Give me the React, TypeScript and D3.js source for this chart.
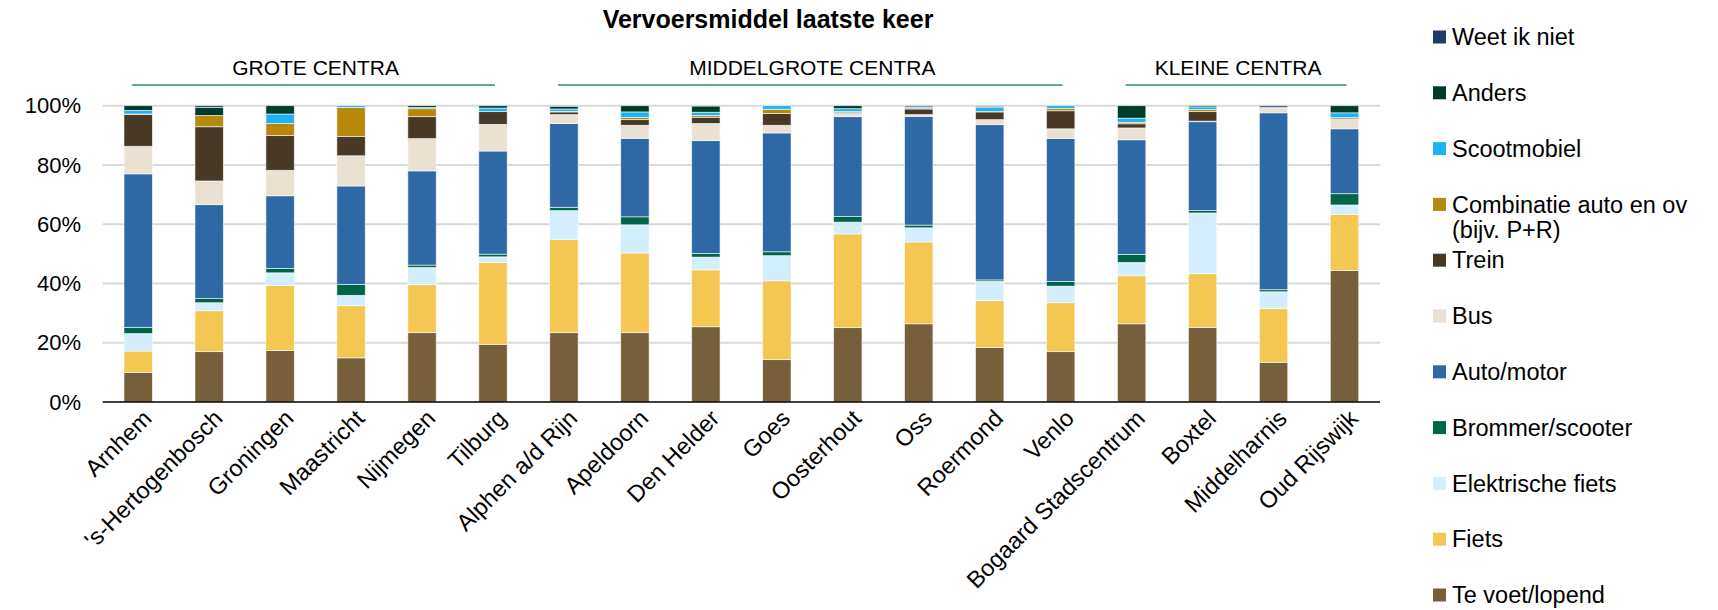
import React from "react";
import * as d3 from "d3";

// Winkelgebieden, gegroepeerd naar omvang
const categories = [
  "Arnhem",
  "'s-Hertogenbosch",
  "Groningen",
  "Maastricht",
  "Nijmegen",
  "Tilburg",
  "Alphen a/d Rijn",
  "Apeldoorn",
  "Den Helder",
  "Goes",
  "Oosterhout",
  "Oss",
  "Roermond",
  "Venlo",
  "Bogaard Stadscentrum",
  "Boxtel",
  "Middelharnis",
  "Oud Rijswijk",
];

const groupNames = ["GROTE CENTRA", "MIDDELGROTE CENTRA", "KLEINE CENTRA"];
const groupFirst = ["Arnhem", "Alphen a/d Rijn", "Bogaard Stadscentrum"];
const groupLast = ["Tilburg", "Venlo", "Oud Rijswijk"];

// Aandeel per vervoersmiddel (%), zelfde volgorde als categories
const teVoet = [10.0, 17.0, 17.4, 14.9, 23.4, 19.4, 23.4, 23.4, 25.4, 14.3, 25.1, 26.4, 18.4, 17.0, 26.4, 25.2, 13.4, 44.4];
const fiets = [7.2, 13.8, 21.9, 17.6, 16.2, 27.7, 31.4, 26.9, 19.2, 26.6, 31.6, 27.6, 15.8, 16.5, 16.2, 18.1, 18.1, 18.9];
const elektrischeFiets = [5.9, 2.7, 4.3, 3.5, 5.8, 1.9, 9.8, 9.5, 4.3, 8.5, 4.0, 4.8, 6.5, 5.6, 4.5, 20.5, 5.7, 3.2];
const brommer = [2.1, 1.4, 1.5, 3.7, 0.8, 0.9, 1.1, 2.7, 1.2, 1.3, 1.9, 0.9, 0.5, 1.6, 2.7, 0.8, 0.7, 3.8];
const auto = [51.8, 31.7, 24.5, 33.2, 31.8, 34.8, 28.3, 26.5, 38.1, 40.1, 33.7, 36.7, 52.4, 48.2, 38.7, 30.0, 59.7, 21.9];
const bus = [9.3, 8.0, 8.6, 10.2, 10.9, 9.0, 3.0, 4.4, 5.8, 2.6, 1.1, 0.6, 1.7, 3.3, 4.0, 0.2, 1.5, 3.4];
const trein = [10.7, 18.3, 11.7, 6.5, 7.4, 4.3, 0.9, 1.9, 2.1, 4.0, 0.4, 1.9, 2.6, 6.1, 1.4, 3.2, 0.1, 0.4];
const combinatie = [0.2, 3.8, 4.1, 9.8, 2.7, 0.0, 0.2, 0.7, 0.6, 1.4, 0.2, 0.1, 0.1, 0.8, 0.5, 0.7, 0.0, 0.0];
const scootmobiel = [1.2, 0.0, 3.2, 0.6, 0.4, 1.2, 0.8, 1.9, 1.1, 1.2, 1.0, 0.4, 1.4, 0.9, 1.4, 0.9, 0.1, 1.6];
const anders = [1.6, 2.7, 2.8, 0.0, 0.6, 0.8, 0.8, 2.1, 2.1, 0.0, 1.0, 0.2, 0.4, 0.0, 4.2, 0.4, 0.2, 2.4];
const weetIkNiet = [0.0, 0.6, 0.0, 0.0, 0.0, 0.0, 0.3, 0.0, 0.1, 0.0, 0.0, 0.4, 0.2, 0.0, 0.0, 0.0, 0.5, 0.0];

// Stapelvolgorde van onder naar boven
const seriesKeys = [
  "Te voet/lopend",
  "Fiets",
  "Elektrische fiets",
  "Brommer/scooter",
  "Auto/motor",
  "Bus",
  "Trein",
  "Combinatie auto en ov (bijv. P+R)",
  "Scootmobiel",
  "Anders",
  "Weet ik niet",
];
const seriesValues = [teVoet, fiets, elektrischeFiets, brommer, auto, bus, trein, combinatie, scootmobiel, anders, weetIkNiet];
const seriesColors = [
  "#785F3B",
  "#F4C752",
  "#D3EEFC",
  "#006548",
  "#2E69A6",
  "#EAE1D3",
  "#473925",
  "#B8880B",
  "#1FB3F3",
  "#003B2A",
  "#1F3D66",
];

const yTicks = [0, 20, 40, 60, 80, 100];

const W = 1718;
const H = 610;
const FONT = "'Liberation Sans', Arial, sans-serif";

export default function App() {
  const x = d3.scaleBand<string>().domain(categories).range([102.7, 1380]).paddingInner(0.6).paddingOuter(0.3);
  const y = d3.scaleLinear().domain([0, 100]).range([402, 105.7]);

  const rows = categories.map((c, i) => {
    const r: Record<string, number | string> = { cat: c };
    seriesKeys.forEach((k, s) => (r[k] = seriesValues[s][i]));
    return r;
  });
  const stacked = d3.stack<any>().keys(seriesKeys)(rows as any);

  const [x0, x1] = x.range();
  const bw = x.bandwidth();

  // Legenda van boven naar beneden: omgekeerde stapelvolgorde
  const legendOrder = seriesKeys.map((k, i) => ({ k, c: seriesColors[i] })).reverse();
  const legendY = d3.scaleLinear().domain([0, legendOrder.length - 1]).range([37, 595]);

  return (
    <svg
      width={W}
      height={H}
      style={{ position: "fixed", left: 0, top: 0, background: "#fff" }}
      fontFamily={FONT}
    >
      {/* Titel */}
      <text x={768} y={28} textAnchor="middle" fontSize={25} fontWeight="bold" fill="#000">
        Vervoersmiddel laatste keer
      </text>

      {/* Groepskoppen */}
      {groupNames.map((g, i) => {
        const a = x(groupFirst[i])! + bw / 2;
        const b = x(groupLast[i])! + bw / 2;
        return (
          <g key={g}>
            <text x={(a + b) / 2} y={75} textAnchor="middle" fontSize={21} fill="#000">
              {g}
            </text>
            <line x1={a - 6} x2={b + 2} y1={85} y2={85} stroke="#2F8C70" strokeWidth={1.6} />
          </g>
        );
      })}

      {/* Rasterlijnen */}
      {yTicks.slice(1).map((t) => (
        <line key={t} x1={x0} x2={x1} y1={y(t)} y2={y(t)} stroke="#D9D9D9" strokeWidth={2} />
      ))}

      {/* Y-as labels */}
      {yTicks.map((t) => (
        <text key={t} x={81} y={y(t)} dy="0.35em" textAnchor="end" fontSize={22} fill="#000">
          {t}%
        </text>
      ))}

      {/* Gestapelde staven */}
      {stacked.map((layer, s) => (
        <g key={layer.key} fill={seriesColors[s]}>
          {layer.map((d, i) =>
            d[1] - d[0] > 0 ? (
              <rect
                key={i}
                x={x(categories[i])!}
                y={y(d[1])}
                width={bw}
                height={y(d[0]) - y(d[1])}
                stroke="#ffffff"
                strokeOpacity={0.7}
                strokeWidth={0.8}
              />
            ) : null
          )}
        </g>
      ))}

      {/* X-as */}
      <line x1={x0} x2={x1} y1={y(0)} y2={y(0)} stroke="#000" strokeWidth={1.6} />

      {/* Categorielabels */}
      {categories.map((c) => {
        const cx = x(c)! + bw / 2;
        return (
          <text
            key={c}
            transform={`translate(${cx + 9},${414}) rotate(-45)`}
            textAnchor="end"
            dy="0.35em"
            fontSize={23.5}
            fill="#000"
          >
            {c}
          </text>
        );
      })}

      {/* Legenda */}
      {legendOrder.map((l, i) => {
        const ly = legendY(i);
        const lines = l.k.startsWith("Combinatie") ? ["Combinatie auto en ov", "(bijv. P+R)"] : [l.k];
        return (
          <g key={l.k}>
            <rect x={1433} y={ly - 6.5} width={13} height={13} fill={l.c} />
            <text x={1452} y={ly} fontSize={23.5} fill="#000">
              {lines.map((t, j) => (
                <tspan key={j} x={1452} dy={j === 0 ? "0.35em" : 25}>
                  {t}
                </tspan>
              ))}
            </text>
          </g>
        );
      })}
    </svg>
  );
}
